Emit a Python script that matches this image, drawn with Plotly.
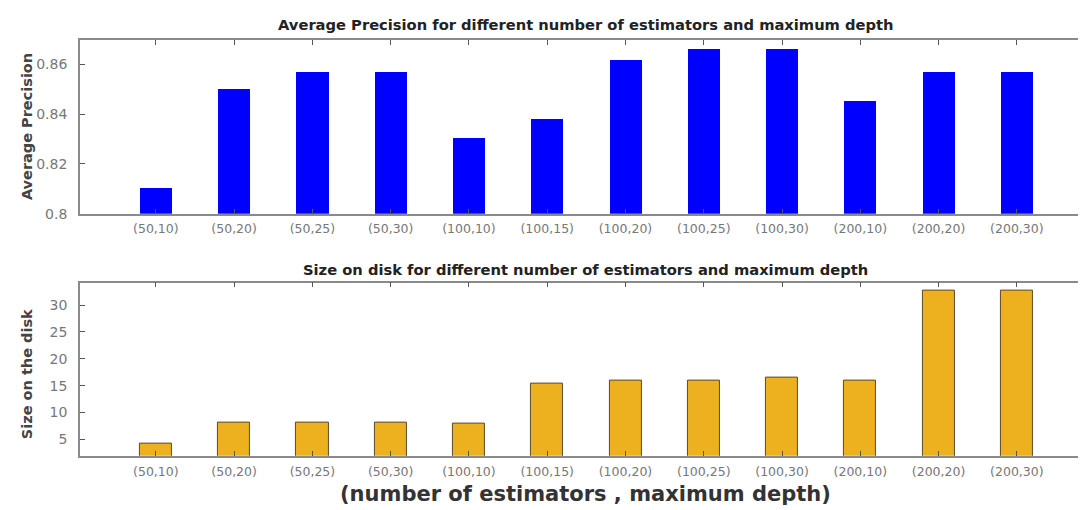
import plotly.graph_objects as go

categories = ["(50,10)", "(50,20)", "(50,25)", "(50,30)", "(100,10)", "(100,15)",
              "(100,20)", "(100,25)", "(100,30)", "(200,10)", "(200,20)", "(200,30)"]
avg_precision = [0.810, 0.850, 0.8565, 0.8565, 0.830, 0.838,
                 0.8615, 0.866, 0.866, 0.845, 0.8565, 0.8565]
size_on_disk = [4.1, 8.1, 8.1, 8.1, 8.0, 15.3,
                16.0, 16.0, 16.4, 16.0, 32.8, 32.8]
prec_ticks = [0.8, 0.82, 0.84, 0.86]
size_ticks = [5, 10, 15, 20, 25, 30]

xpos = list(range(len(categories)))
W, H = 1086, 510
FONT = "DejaVu Sans, Liberation Sans, sans-serif"
AXC = "#8a8a8a"
TICKC = "#777777"

fig = go.Figure()
fig.add_trace(go.Bar(x=xpos, y=avg_precision, width=0.41, marker_color="#0000ff",
                     marker_line_width=0, xaxis="x", yaxis="y", showlegend=False))
fig.add_trace(go.Bar(x=xpos, y=size_on_disk, width=0.41, marker_color="#EDB120",
                     marker_line=dict(color="#5a4a2a", width=1), xaxis="x2", yaxis="y2",
                     showlegend=False, base=0))

xdom = [72 / W, 1085 / W]
common_x = dict(tickmode="array", tickvals=xpos, ticktext=categories, range=[-0.97, 11.96],
                showline=True, linecolor=AXC, linewidth=1.5, mirror="ticks", ticks="inside",
                ticklen=5, tickcolor="#555555", showgrid=False, zeroline=False,
                ticklabelstandoff=3,
                tickfont=dict(family=FONT, size=12.5, color=TICKC))
common_y = dict(showline=True, linecolor=AXC, linewidth=1.5, mirror="ticks", ticks="inside",
                ticklen=5, tickcolor="#555555", showgrid=False, zeroline=False,
                ticklabelstandoff=8,
                tickfont=dict(family=FONT, size=14, color=TICKC))

fig.update_layout(
    width=W, height=H,
    margin=dict(l=0, r=0, t=0, b=0),
    paper_bgcolor="white", plot_bgcolor="white",
    bargap=0,
    xaxis=dict(domain=xdom, anchor="y", **common_x),
    yaxis=dict(domain=[1 - 209 / H, 1 - 33 / H], anchor="x", range=[0.8, 0.8695],
               tickvals=prec_ticks, **common_y),
    xaxis2=dict(domain=xdom, anchor="y2", **common_x),
    yaxis2=dict(domain=[1 - 455 / H, 1 - 279 / H], anchor="x2", range=[1.9, 34.2],
                tickvals=size_ticks, **common_y),
)

ann = [
    dict(text="<b>Average Precision for different number of estimators and maximum depth</b>",
         x=578.5 / W, y=1 - 17 / H, font=dict(size=14.7, color="#222222")),
    dict(text="<b>Size on disk for different number of estimators and maximum depth</b>",
         x=578.5 / W, y=1 - 266 / H, font=dict(size=14.7, color="#222222")),
    dict(text="<b>Average Precision</b>", x=19 / W, y=1 - 120 / H, textangle=-90,
         font=dict(size=14.5, color="#444444")),
    dict(text="<b>Size on the disk</b>", x=19 / W, y=1 - 372 / H, textangle=-90,
         font=dict(size=14.5, color="#444444")),
    dict(text="<b>(number of estimators , maximum depth)</b>", x=578 / W, y=1 - 494 / H,
         font=dict(size=21, color="#333333")),
]
for a in ann:
    a.update(xref="paper", yref="paper", showarrow=False, xanchor="center", yanchor="middle")
    a["font"]["family"] = FONT
fig.update_layout(annotations=ann)

fig.write_html("out.html")
